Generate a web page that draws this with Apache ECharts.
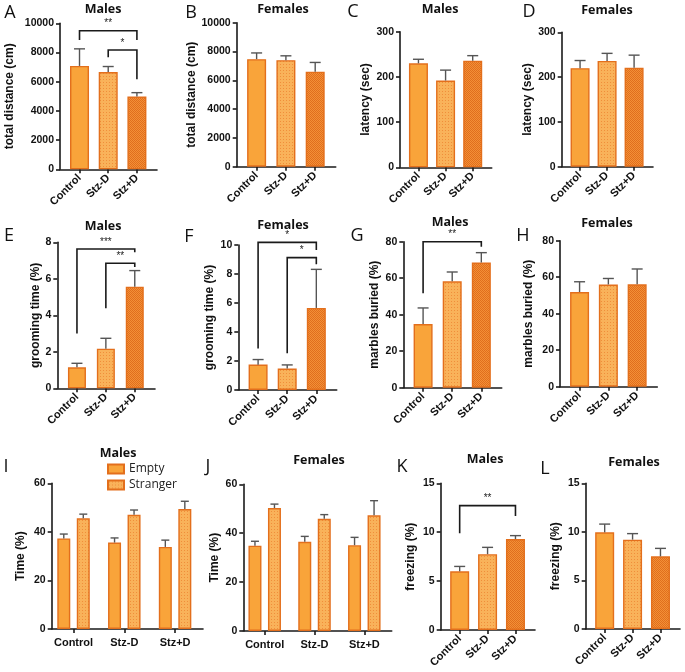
<!DOCTYPE html>
<html><head><meta charset="utf-8">
<script src="https://cdn.jsdelivr.net/npm/echarts@6/dist/echarts.min.js"></script>
<style>html,body{margin:0;padding:0;background:#fff}#c{width:685px;height:672px}</style>
</head><body><div id="c"></div>
<script>
// ---------------- DATA ----------------
const groups = ['Control', 'Stz-D', 'Stz+D'];
const legendNames = ['Empty', 'Stranger'];

// A: open field, total distance, males
const distMaleMean = [7080, 6660, 4980];
const distMaleUpper = [8250, 7040, 5250];
const distMaleSig = [[0, 2, 9490, 8850, 8850, '**'], [1, 2, 8170, 7670, 6160, '*']];
// B: total distance, females
const distFemaleMean = [7470, 7400, 6600];
const distFemaleUpper = [7900, 7700, 7240];
// C: latency, males
const latMaleMean = [230, 192, 236];
const latMaleUpper = [239, 215, 247];
// D: latency, females
const latFemaleMean = [220, 236, 221];
const latFemaleUpper = [237, 253, 249];
// E: grooming, males
const groomMaleMean = [1.15, 2.17, 5.57];
const groomMaleUpper = [1.37, 2.74, 6.45];
const groomMaleSig = [[0, 2, 7.63, 3.0, 7.45, '***'], [1, 2, 6.85, 4.38, 6.65, '**']];
// F: grooming, females
const groomFemaleMean = [1.75, 1.48, 5.66];
const groomFemaleUpper = [2.1, 1.73, 8.32];
const groomFemaleSig = [[0, 2, 10.18, 2.87, 9.66, '*'], [1, 2, 9.13, 2.53, 8.67, '*']];
// G: marbles, males
const marbleMaleMean = [34.9, 58.3, 68.6];
const marbleMaleUpper = [43.7, 63.4, 74.0];
const marbleMaleSig = [[0, 2, 80, 51.7, 77.3, '**']];
// H: marbles, females
const marbleFemaleMean = [51.9, 56.0, 56.1];
const marbleFemaleUpper = [57.5, 59.3, 64.5];
// I: social, males
const socialMaleEmpty = [37.3, 35.6, 33.8];
const socialMaleEmptyUpper = [39.1, 37.5, 36.6];
const socialMaleStranger = [45.6, 47.0, 49.4];
const socialMaleStrangerUpper = [47.3, 49.0, 52.6];
// J: social, females
const socialFemaleEmpty = [34.9, 36.5, 35.1];
const socialFemaleEmptyUpper = [36.7, 38.7, 38.3];
const socialFemaleStranger = [50.3, 45.9, 47.3];
const socialFemaleStrangerUpper = [51.9, 47.6, 53.3];
// K: freezing, males
const freezeMaleMean = [6.0, 7.75, 9.3];
const freezeMaleUpper = [6.5, 8.45, 9.65];
const freezeMaleSig = [[0, 2, 12.72, 9.9, 11.65, '**']];
// L: freezing, females
const freezeFemaleMean = [9.95, 9.2, 7.48];
const freezeFemaleUpper = [10.8, 9.82, 8.3];

// tick labels
const distTicks = [0, 2000, 4000, 6000, 8000, 10000];
const latTicks = [0, 100, 200, 300];
const groomMaleTicks = [0, 2, 4, 6, 8];
const groomFemaleTicks = [0, 2, 4, 6, 8, 10];
const marbleTicks = [0, 20, 40, 60, 80];
const socialTicks = [0, 20, 40, 60];
const freezeTicks = [0, 5, 10, 15];

// ---------------- STYLE / LAYOUT ----------------
function pattern(bg, fg, w, h, pts) {
  const c = document.createElement('canvas');
  c.width = w; c.height = h;
  const g = c.getContext('2d');
  g.fillStyle = bg; g.fillRect(0, 0, w, h);
  g.fillStyle = fg;
  pts.forEach(p => g.fillRect(p[0], p[1], 1, 1));
  return { image: c, repeat: 'repeat' };
}
const fillControl = '#F9A43A';
const fillStzMinus = pattern('#F9B25A', '#F08E3A', 3, 3, [[1, 1]]);
const fillStzPlus = pattern('#F39036', '#E06E1E', 2, 2, [[0, 0], [1, 1]]);
const fills = [fillControl, fillStzMinus, fillStzPlus];
const barBorder = '#E36F1C';
const axisColor = '#1a1a1a';
const errColor = '#555555';
const tickFont = 'Liberation Sans';

const panels = [
  { id: 'A', title: 'Males', tx: 103, ty: 9, lx: 10, ly: 13, grid: [60, 23.3, 97, 146], mean: distMaleMean, upper: distMaleUpper, sig: distMaleSig, ticks: distTicks, name: 'total distance (cm)', gap: 44, bw: 19 },
  { id: 'B', title: 'Females', tx: 283, ty: 9, lx: 191, ly: 13, grid: [236.7, 22.7, 99, 144], mean: distFemaleMean, upper: distFemaleUpper, ticks: distTicks, name: 'total distance (cm)', gap: 39, bw: 19 },
  { id: 'C', title: 'Males', tx: 440, ty: 9, lx: 353, ly: 12, grid: [400, 31.7, 91.7, 135.6], mean: latMaleMean, upper: latMaleUpper, ticks: latTicks, name: 'latency (sec)', gap: 28, bw: 19 },
  { id: 'D', title: 'Females', tx: 607, ty: 10, lx: 529, ly: 12, grid: [561.7, 32.3, 91.3, 134.4], mean: latFemaleMean, upper: latFemaleUpper, ticks: latTicks, name: 'latency (sec)', gap: 28, bw: 19 },
  { id: 'E', title: 'Males', tx: 103, ty: 226, lx: 9, ly: 236, grid: [57.3, 242.3, 97.7, 146], mean: groomMaleMean, upper: groomMaleUpper, sig: groomMaleSig, ticks: groomMaleTicks, name: 'grooming time (%)', gap: 16, bw: 18 },
  { id: 'F', title: 'Females', tx: 283, ty: 225, lx: 189, ly: 237, grid: [238.3, 245, 98.4, 145], mean: groomFemaleMean, upper: groomFemaleUpper, sig: groomFemaleSig, ticks: groomFemaleTicks, name: 'grooming time (%)', gap: 23, bw: 19 },
  { id: 'G', title: 'Males', tx: 450, ty: 222, lx: 357, ly: 236, grid: [403.3, 241.7, 98.4, 146], mean: marbleMaleMean, upper: marbleMaleUpper, sig: marbleMaleSig, ticks: marbleTicks, name: 'marbles buried (%)', gap: 23, bw: 19 },
  { id: 'H', title: 'Females', tx: 607, ty: 223, lx: 523, ly: 236, grid: [560, 240.7, 97.3, 146], mean: marbleFemaleMean, upper: marbleFemaleUpper, ticks: marbleTicks, name: 'marbles buried (%)', gap: 25, bw: 19 },
  { id: 'I', title: 'Males', tx: 118, ty: 453, lx: 6, ly: 467, grid: [51.7, 483.3, 151.3, 145.7], grouped: [socialMaleEmpty, socialMaleStranger], groupedUpper: [socialMaleEmptyUpper, socialMaleStrangerUpper], ticks: socialTicks, name: 'Time (%)', gap: 25, bw: 13 },
  { id: 'J', title: 'Females', tx: 319, ty: 460, lx: 208, ly: 467, grid: [243.3, 484.3, 148.4, 146.7], grouped: [socialFemaleEmpty, socialFemaleStranger], groupedUpper: [socialFemaleEmptyUpper, socialFemaleStrangerUpper], ticks: socialTicks, name: 'Time (%)', gap: 23, bw: 13 },
  { id: 'K', title: 'Males', tx: 485, ty: 459, lx: 402, ly: 467, grid: [440.7, 483.3, 94.3, 146.7], mean: freezeMaleMean, upper: freezeMaleUpper, sig: freezeMaleSig, ticks: freezeTicks, name: 'freezing (%)', gap: 24, bw: 19 },
  { id: 'L', title: 'Females', tx: 634, ty: 462, lx: 545, ly: 469, grid: [585.7, 483.3, 94.3, 145.7], mean: freezeFemaleMean, upper: freezeFemaleUpper, ticks: freezeTicks, name: 'freezing (%)', gap: 24, bw: 19 }
];

// ---------------- BUILD ----------------
const grids = [], xAxes = [], yAxes = [], series = [], graphics = [];

function errSeries(i, mean, upper, off, cap) {
  return {
    type: 'custom', xAxisIndex: i, yAxisIndex: i, z: 4, clip: false,
    encode: { x: 0, y: [1, 2] },
    data: mean.map((v, k) => [k, v, upper[k]]),
    renderItem: (params, api) => {
      const p0 = api.coord([api.value(0), api.value(1)]);
      const p1 = api.coord([api.value(0), api.value(2)]);
      const x = p0[0] + off;
      const st = { stroke: errColor, lineWidth: 1.4 };
      return { type: 'group', children: [
        { type: 'line', shape: { x1: x, y1: p0[1], x2: x, y2: p1[1] }, style: st },
        { type: 'line', shape: { x1: x - cap, y1: p1[1], x2: x + cap, y2: p1[1] }, style: st }
      ] };
    }
  };
}

function sigSeries(i, sig) {
  return {
    type: 'custom', xAxisIndex: i, yAxisIndex: i, z: 5, clip: false,
    encode: { x: [0, 1], y: [2, 3, 4] },
    data: sig.map(s => [s[0], s[1], s[2], s[3], s[4]]),
    renderItem: (params, api) => {
      const a = api.coord([api.value(0), api.value(3)]);
      const t1 = api.coord([api.value(0), api.value(2)]);
      const t2 = api.coord([api.value(1), api.value(2)]);
      const b = api.coord([api.value(1), api.value(4)]);
      return { type: 'group', children: [
        { type: 'polyline', shape: { points: [a, t1, t2, b] }, style: { stroke: axisColor, lineWidth: 1.6, fill: null } },
        { type: 'text', x: (t1[0] + t2[0]) / 2, y: t1[1] - 2, style: { text: sig[params.dataIndex][5], fill: '#222', fontSize: 10, fontFamily: tickFont, align: 'center', verticalAlign: 'bottom' } }
      ] };
    }
  };
}

panels.forEach((p, i) => {
  const [l, t, w, h] = p.grid;
  grids.push({ left: l, top: t, width: w, height: h, containLabel: false, outerBoundsMode: 'none' });
  const isGrouped = !!p.grouped;
  xAxes.push({
    type: 'value', gridIndex: i,
    min: isGrouped ? -0.43 : -0.68, max: isGrouped ? 2.55 : 2.7,
    splitLine: { show: false },
    axisLine: { show: true, onZero: false, lineStyle: { color: axisColor, width: 1.6 } },
    axisTick: { show: true, customValues: [0, 1, 2], length: 4, lineStyle: { color: axisColor, width: 1.6 } },
    axisLabel: {
      customValues: [0, 1, 2], formatter: v => groups[Math.round(v)],
      rotate: isGrouped ? 0 : 45, margin: isGrouped ? 8 : 7,
      fontFamily: tickFont, fontWeight: 'bold', fontSize: 11, color: '#111'
    }
  });
  const tk = p.ticks;
  yAxes.push({
    type: 'value', gridIndex: i, min: tk[0], max: tk[tk.length - 1], interval: tk[1] - tk[0],
    splitLine: { show: false },
    axisLine: { show: true, onZero: false, lineStyle: { color: axisColor, width: 1.6 } },
    axisTick: { show: true, length: 4, lineStyle: { color: axisColor, width: 1.6 } },
    axisLabel: { margin: 6, formatter: v => String(v), fontFamily: tickFont, fontWeight: 'bold', fontSize: 10.5, color: '#111' },
    name: p.name, nameLocation: 'middle', nameGap: p.gap,
    nameTextStyle: { fontFamily: tickFont, fontWeight: 'bold', fontSize: 12, color: '#111' }
  });
  if (!isGrouped) {
    series.push({
      type: 'bar', xAxisIndex: i, yAxisIndex: i, barWidth: p.bw, z: 2,
      itemStyle: { borderColor: barBorder, borderWidth: 1.4 },
      data: p.mean.map((v, k) => ({ value: [k, v], itemStyle: { color: fills[k] } }))
    });
    series.push(errSeries(i, p.mean, p.upper, 0, 5.5));
    if (p.sig) series.push(sigSeries(i, p.sig));
  } else {
    const gapPct = '50%';
    const off = (p.bw + p.bw * 0.5) / 2;
    p.grouped.forEach((vals, s) => {
      series.push({
        type: 'bar', name: legendNames[s], xAxisIndex: i, yAxisIndex: i, barWidth: p.bw, barGap: gapPct, z: 2,
        itemStyle: { color: s === 0 ? fillControl : fillStzMinus, borderColor: barBorder, borderWidth: 1.4 },
        data: vals.map((v, k) => [k, v])
      });
    });
    p.grouped.forEach((vals, s) => {
      series.push(errSeries(i, vals, p.groupedUpper[s], s === 0 ? -off : off, 4));
    });
  }
  graphics.push({ type: 'text', x: p.tx, y: p.ty, style: { text: p.title, fontFamily: 'Open Sans', fontWeight: 'bold', fontSize: 12.5, fill: '#111', align: 'center', verticalAlign: 'middle' } });
  graphics.push({ type: 'text', x: p.lx, y: p.ly, style: { text: p.id, fontFamily: 'Open Sans', fontSize: 18, fill: '#111', align: 'center', verticalAlign: 'middle' } });
});

const chart = echarts.init(document.getElementById('c'));
chart.setOption({
  animation: false,
  backgroundColor: '#fff',
  grid: grids, xAxis: xAxes, yAxis: yAxes, series: series,
  legend: {
    data: legendNames, orient: 'vertical', left: 107, top: 463, padding: 0,
    itemWidth: 16, itemHeight: 9, itemGap: 4, icon: 'rect',
    textStyle: { fontFamily: 'Open Sans', fontSize: 12, color: '#222' },
    selectedMode: false
  },
  graphic: graphics
});
</script>
</body></html>
